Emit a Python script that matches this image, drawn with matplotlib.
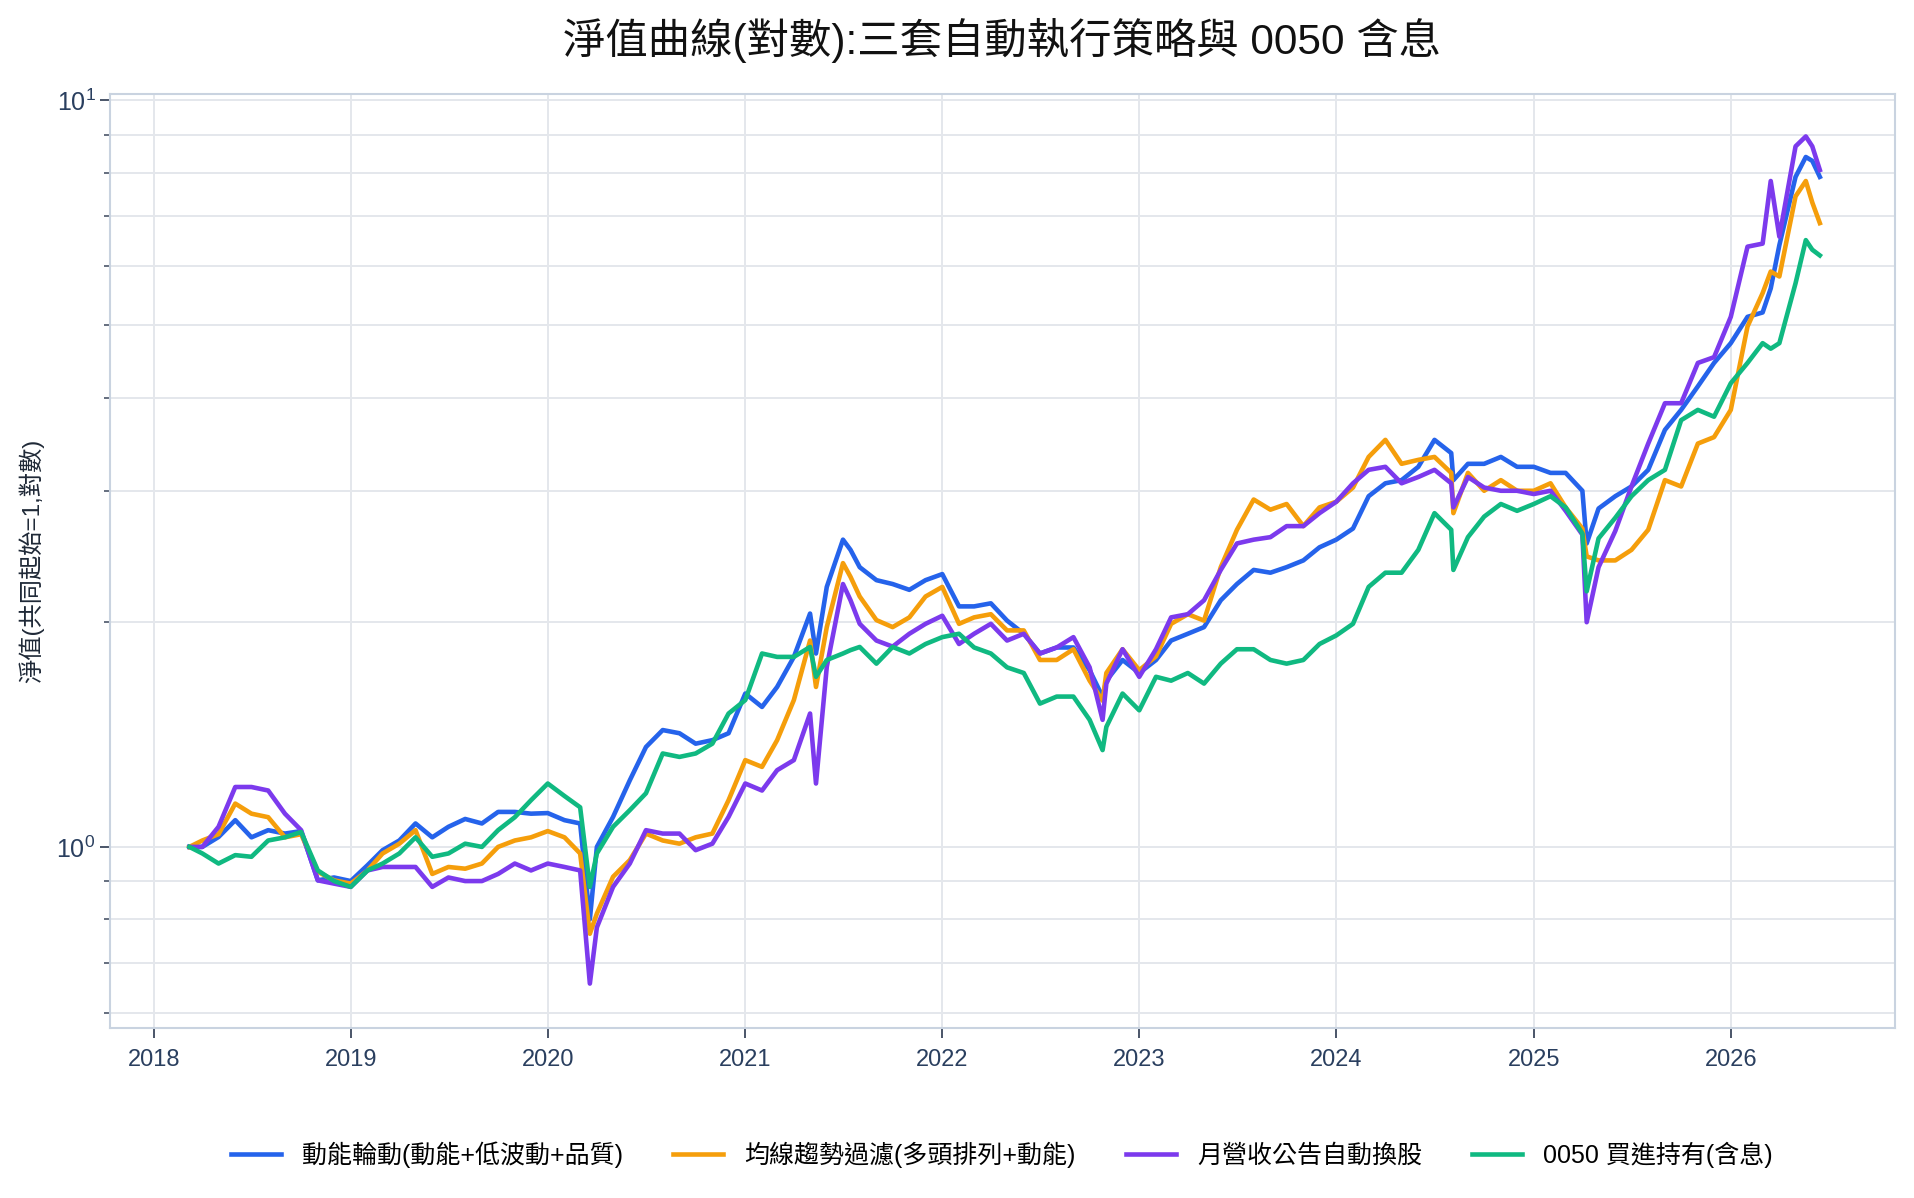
import matplotlib
matplotlib.use("Agg")
import matplotlib.pyplot as plt
import matplotlib.dates as mdates
from matplotlib.ticker import LogLocator, NullFormatter
import pandas as pd

plt.rcParams['font.family'] = ['Liberation Sans', 'Noto Sans CJK TC', 'DejaVu Sans']

# month-start sample dates, plus a few crash / peak days
dates = (
    ["2018-03-08", "2018-04-01", "2018-05-01", "2018-06-01", "2018-07-01", "2018-08-01",
     "2018-09-01", "2018-10-01", "2018-11-01", "2018-12-01"]
    + ["2019-%02d-01" % m for m in range(1, 13)]
    + ["2020-01-01", "2020-02-01", "2020-03-01", "2020-03-19"]
    + ["2020-%02d-01" % m for m in range(4, 13)]
    + ["2021-01-01", "2021-02-01", "2021-03-01", "2021-04-01", "2021-05-01", "2021-05-12",
       "2021-06-01", "2021-07-01", "2021-07-15", "2021-08-01", "2021-09-01", "2021-10-01",
       "2021-11-01", "2021-12-01"]
    + ["2022-%02d-01" % m for m in range(1, 11)] + ["2022-10-25", "2022-11-01", "2022-12-01"]
    + ["2023-%02d-01" % m for m in range(1, 13)]
    + ["2024-%02d-01" % m for m in range(1, 9)] + ["2024-08-05"]
    + ["2024-%02d-01" % m for m in range(9, 13)]
    + ["2025-%02d-01" % m for m in range(1, 5)] + ["2025-04-09"]
    + ["2025-%02d-01" % m for m in range(5, 13)]
    + ["2026-01-01", "2026-02-01", "2026-03-01", "2026-03-16", "2026-04-01", "2026-05-01",
       "2026-05-20", "2026-06-01", "2026-06-15"]
)

momentum = [
    1.0, 1.0, 1.031, 1.086, 1.03, 1.053, 1.042, 1.05, 0.902, 0.91,
    0.90, 0.945, 0.99, 1.02, 1.075, 1.03, 1.064, 1.09, 1.075, 1.114, 1.114, 1.108,
    1.11, 1.086, 1.075, 0.80, 1.0, 1.097, 1.228, 1.361, 1.434, 1.42, 1.375, 1.39, 1.42,
    1.605, 1.54, 1.638, 1.797, 2.054, 1.816, 2.23, 2.58, 2.5, 2.37, 2.277, 2.25, 2.21, 2.277,
    2.32, 2.1, 2.1, 2.12, 2.01, 1.93, 1.816, 1.85, 1.85, 1.725, 1.589, 1.67, 1.78,
    1.71, 1.78, 1.89, 1.93, 1.97, 2.14, 2.25, 2.35, 2.33, 2.37, 2.42, 2.52,
    2.58, 2.67, 2.95, 3.07, 3.1, 3.23, 3.51, 3.37, 3.1, 3.26, 3.26, 3.33, 3.23,
    3.23, 3.17, 3.17, 3.0, 2.55, 2.84, 2.95, 3.04, 3.2, 3.62, 3.85, 4.14, 4.45,
    4.73, 5.13, 5.2, 5.6, 6.4, 7.9, 8.4, 8.3, 7.9,
]
ma_trend = [
    1.0, 1.02, 1.04, 1.143, 1.108, 1.096, 1.03, 1.04, 0.926, 0.902,
    0.893, 0.93, 0.98, 1.01, 1.053, 0.92, 0.94, 0.935, 0.95, 1.0, 1.02, 1.03,
    1.05, 1.03, 0.98, 0.765, 0.814, 0.912, 0.96, 1.042, 1.02, 1.01, 1.03, 1.042, 1.155,
    1.307, 1.28, 1.39, 1.573, 1.89, 1.638, 1.97, 2.4, 2.3, 2.165, 2.013, 1.97, 2.03, 2.165,
    2.23, 1.99, 2.03, 2.05, 1.95, 1.95, 1.78, 1.78, 1.84, 1.67, 1.57, 1.71, 1.84,
    1.725, 1.80, 1.99, 2.05, 2.01, 2.37, 2.66, 2.92, 2.83, 2.88, 2.69, 2.85,
    2.9, 3.03, 3.33, 3.51, 3.26, 3.3, 3.33, 3.17, 2.8, 3.17, 3.0, 3.1, 3.0,
    3.0, 3.07, 2.85, 2.67, 2.45, 2.42, 2.42, 2.5, 2.66, 3.1, 3.04, 3.47, 3.54,
    3.85, 4.98, 5.52, 5.9, 5.81, 7.44, 7.8, 7.3, 6.85,
]
revenue = [
    1.0, 1.0, 1.064, 1.203, 1.203, 1.19, 1.108, 1.053, 0.902, 0.893,
    0.884, 0.93, 0.94, 0.94, 0.94, 0.884, 0.91, 0.90, 0.90, 0.92, 0.95, 0.93,
    0.95, 0.94, 0.93, 0.656, 0.78, 0.884, 0.95, 1.053, 1.042, 1.042, 0.99, 1.01, 1.097,
    1.216, 1.19, 1.267, 1.307, 1.509, 1.216, 1.743, 2.25, 2.14, 1.99, 1.89, 1.855, 1.93, 1.99,
    2.04, 1.87, 1.93, 1.99, 1.89, 1.93, 1.816, 1.85, 1.91, 1.74, 1.48, 1.655, 1.84,
    1.69, 1.84, 2.03, 2.05, 2.14, 2.35, 2.55, 2.58, 2.6, 2.69, 2.69, 2.8,
    2.9, 3.07, 3.2, 3.23, 3.07, 3.13, 3.2, 3.07, 2.85, 3.13, 3.03, 3.0, 3.0,
    2.97, 3.0, 2.82, 2.62, 2.0, 2.37, 2.65, 3.04, 3.47, 3.93, 3.93, 4.45, 4.53,
    5.13, 6.37, 6.43, 7.8, 6.57, 8.68, 8.95, 8.68, 8.07,
]
etf0050 = [
    1.0, 0.98, 0.95, 0.975, 0.97, 1.02, 1.03, 1.047, 0.93, 0.90,
    0.884, 0.93, 0.95, 0.98, 1.03, 0.97, 0.98, 1.01, 1.0, 1.053, 1.096, 1.155,
    1.216, 1.17, 1.13, 0.884, 0.98, 1.064, 1.12, 1.18, 1.334, 1.32, 1.334, 1.375, 1.509,
    1.573, 1.816, 1.797, 1.797, 1.853, 1.69, 1.78, 1.816, 1.835, 1.853, 1.76, 1.853, 1.816, 1.87,
    1.91, 1.93, 1.85, 1.816, 1.74, 1.71, 1.556, 1.59, 1.59, 1.48, 1.348, 1.448, 1.605,
    1.524, 1.69, 1.67, 1.71, 1.655, 1.76, 1.84, 1.84, 1.78, 1.76, 1.78, 1.87,
    1.92, 1.99, 2.23, 2.33, 2.33, 2.5, 2.8, 2.66, 2.35, 2.6, 2.77, 2.88, 2.82,
    2.88, 2.95, 2.85, 2.63, 2.2, 2.59, 2.76, 2.95, 3.1, 3.2, 3.73, 3.85, 3.77,
    4.18, 4.45, 4.73, 4.65, 4.73, 5.69, 6.5, 6.31, 6.2,
]

names = ["動能輪動(動能+低波動+品質)", "均線趨勢過濾(多頭排列+動能)", "月營收公告自動換股", "0050 買進持有(含息)"]
colors = ["#2563EB", "#F59E0B", "#7C3AED", "#10B981"]

x = pd.to_datetime(dates)

fig = plt.figure(figsize=(19.14, 11.98), dpi=100)
ax = fig.add_axes([0.0575, 0.1419, 0.9325, 0.7796])

for vals, name, c in zip([momentum, ma_trend, revenue, etf0050], names, colors):
    ax.plot(x, vals, color=c, lw=3.3, label=name, solid_joinstyle="round")

ax.set_yscale("log")
ax.set_ylim(0.572, 10.2)
ax.set_xlim(pd.Timestamp("2017-10-12"), pd.Timestamp("2026-11-01"))
ax.yaxis.set_major_locator(LogLocator(base=10))
ax.yaxis.set_minor_locator(LogLocator(base=10, subs=range(2, 10)))
ax.yaxis.set_minor_formatter(NullFormatter())
ax.xaxis.set_major_locator(mdates.YearLocator())
ax.xaxis.set_major_formatter(mdates.DateFormatter("%Y"))

grid_c = "#E4E7EC"
ax.grid(True, which="major", color=grid_c, lw=1.4)
ax.grid(True, which="minor", axis="y", color=grid_c, lw=1.4)
ax.set_axisbelow(True)
for s in ax.spines.values():
    s.set_color("#C9D3E0")
    s.set_linewidth(1.5)

tick_c = "#2A3F5F"
ax.tick_params(axis="both", which="major", labelsize=17, colors="#4A5568", labelcolor=tick_c,
               length=7, width=1.4, direction="out")
ax.tick_params(axis="y", which="major", labelsize=18)
ax.tick_params(axis="y", which="minor", length=4, width=1.2, colors="#4A5568")
ax.tick_params(axis="x", pad=8)

ax.set_ylabel("淨值(共同起始=1,對數)", fontsize=17.5, color="#1F2937")
ax.yaxis.set_label_coords(-0.037, 0.5)

fig.text(0.5235, 0.966, "淨值曲線(對數):三套自動執行策略與 0050 含息", ha="center", va="center",
         fontsize=30.5, color="#111111")

fig.legend(loc="center", bbox_to_anchor=(0.5235, 0.036), ncol=4, frameon=False, fontsize=18,
           handlelength=2.0, handletextpad=0.85, columnspacing=2.0)

fig.savefig("out.png", dpi=100, facecolor="white")
